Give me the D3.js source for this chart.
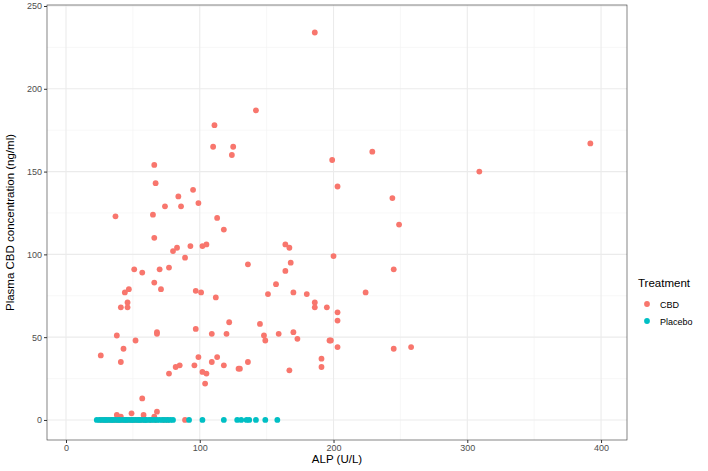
<!DOCTYPE html><html><head><meta charset="utf-8"><script src="https://cdn.jsdelivr.net/npm/d3@7"></script>
<style>body{margin:0;background:#fff}text{font-family:"Liberation Sans",Arial,sans-serif}</style></head><body><svg id="c" width="708" height="471"></svg>
<script>
const cbdX=[111,110,125,124,66,67,95,84,99,74,86,37,65,113,118,66,93,102,105,80,83,89,51,57,70,77,66,71,44,47,41,46,46,97,101,112,122,97,68,68,38,52,109,120,26,43,41,77,82,85,99,96,102,105,104,109,113,118,129,57,38,41,49,58,66,68,
186,142,229,199,203,244,249,164,167,136,168,164,200,245,157,151,170,180,224,186,186,195,203,203,145,148,159,170,149,173,197,198,203,245,136,130,167,191,191,258,309,392,
26,28,31,33,36,38,41,43,46,48,51,53,56,59,63,67,73,76,89];
const cbdY=[178,165,165,160,154,143,139,135,131,129,129,123,124,122,115,110,105,105,106,102,104,98,91,89,91,92,83,79,77,79,68,71,68,78,77,74,59,55,53,52,51,48,52,52,39,43,35,28,32,33,38,33,29,28,22,35,38,33,31,13,3,2,4,3,2,5,
234,187,162,157,141,134,118,106,104,94,95,90,99,91,82,76,77,76,77,71,68,68,65,60,58,51,52,53,48,49,48,48,44,43,35,31,30,37,32,44,150,167,
0,0,0,0,0,0,0,0,0,0,0,0,0,0,0,0,0,0,0];
const placeboX=[23,25,27,29,30,32,34,35,37,39,40,42,44,45,47,49,50,52,54,55,57,59,60,62,64,66,68,70,72,74,76,78,80,92,102,118,128,131,135,137,142,149,158];
const placeboY=placeboX.map(()=>0);
const xTicks=[0,100,200,300,400], yTicks=[0,50,100,150,200,250];
const svg=d3.select("#c");
const L=47,R=627,T=5,B=440;
const x=d3.scaleLinear().domain([-14.2,419.4]).range([L,R]);
const y=d3.scaleLinear().domain([-12.1,250.6]).range([B,T]);
const g=svg.append("g");
// minor grid
[-0,50,150,250,350].forEach(v=>{});
const xMinor=[50,150,250,350], yMinor=[25,75,125,175,225];
xMinor.forEach(v=>g.append("line").attr("x1",x(v)).attr("x2",x(v)).attr("y1",T).attr("y2",B).attr("stroke","#f2f2f2").attr("stroke-width",0.6));
yMinor.forEach(v=>g.append("line").attr("y1",y(v)).attr("y2",y(v)).attr("x1",L).attr("x2",R).attr("stroke","#f2f2f2").attr("stroke-width",0.6));
xTicks.forEach(v=>g.append("line").attr("x1",x(v)).attr("x2",x(v)).attr("y1",T).attr("y2",B).attr("stroke","#ebebeb").attr("stroke-width",1.1));
yTicks.forEach(v=>g.append("line").attr("y1",y(v)).attr("y2",y(v)).attr("x1",L).attr("x2",R).attr("stroke","#ebebeb").attr("stroke-width",1.1));
const xa=svg.append("g").attr("transform",`translate(0,${B})`).call(d3.axisBottom(x).tickValues(xTicks).tickSize(3).tickPadding(2));
const ya=svg.append("g").attr("transform",`translate(${L},0)`).call(d3.axisLeft(y).tickValues(yTicks).tickSize(3).tickPadding(2));
[xa,ya].forEach(a=>{a.select(".domain").remove();a.selectAll("line").attr("stroke","#333");a.selectAll("text").attr("fill","#4d4d4d").style("font-size","9px");});
const pts=svg.append("g");
pts.selectAll(".c").data(cbdX.map((v,i)=>[v,cbdY[i]])).join("circle").attr("cx",d=>x(d[0])).attr("cy",d=>y(d[1])).attr("r",2.9).attr("fill","#F8766D");
pts.selectAll(".p").data(placeboX.map((v,i)=>[v,placeboY[i]])).join("circle").attr("cx",d=>x(d[0])).attr("cy",d=>y(d[1])).attr("r",2.9).attr("fill","#00BFC4");
svg.append("rect").attr("x",L).attr("y",T).attr("width",R-L).attr("height",B-T).attr("fill","none").attr("stroke","#333").attr("stroke-width",0.6);
svg.append("text").attr("x",(L+R)/2).attr("y",463).attr("text-anchor","middle").style("font-size","11.5px").text("ALP (U/L)");
svg.append("text").attr("transform",`translate(14,${(T+B)/2}) rotate(-90)`).attr("text-anchor","middle").style("font-size","11.5px").text("Plasma CBD concentration (ng/ml)");
const lg=svg.append("g");
lg.append("text").attr("x",638).attr("y",287).style("font-size","11.5px").text("Treatment");
[["CBD","#F8766D"],["Placebo","#00BFC4"]].forEach((d,i)=>{
 lg.append("circle").attr("cx",647).attr("cy",304+i*17).attr("r",2.9).attr("fill",d[1]);
 lg.append("text").attr("x",660).attr("y",307.5+i*17).style("font-size","9px").text(d[0]);});
</script></body></html>
